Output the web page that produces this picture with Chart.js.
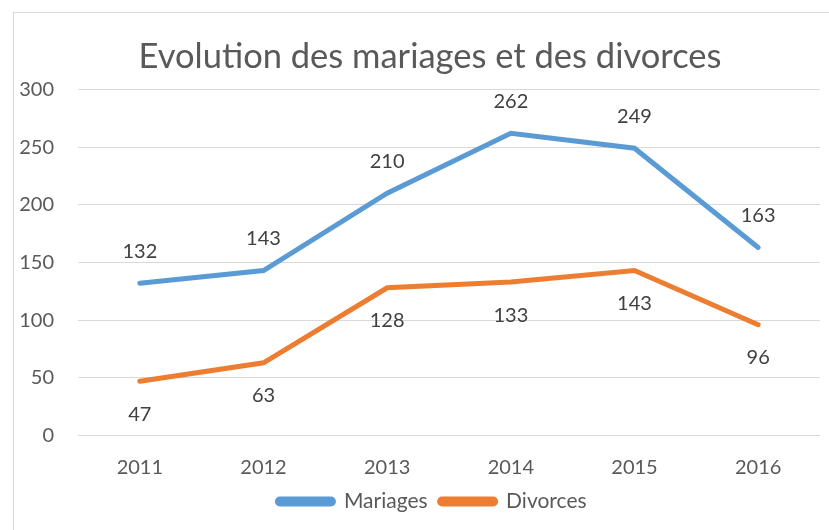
<!DOCTYPE html>
<html>
<head>
<meta charset="utf-8">
<script src="https://cdn.jsdelivr.net/npm/chart.js@4"></script>
<style>
  html, body { margin: 0; padding: 0; background: #fff; }
  #wrap { position: relative; width: 829px; height: 530px; overflow: hidden; }
  #frame {
    position: absolute; left: 13px; top: 12px; width: 840px; height: 560px;
    border: 1px solid #d9d9d9; pointer-events: none;
  }
  canvas { position: absolute; left: 0; top: 0; }
</style>
</head>
<body>
<div id="wrap">
  <canvas id="chart" width="829" height="530"></canvas>
  <div id="frame"></div>
</div>
<script>
const years = ['2011', '2012', '2013', '2014', '2015', '2016'];
const mariages = [132, 143, 210, 262, 249, 163];
const divorces = [47, 63, 128, 133, 143, 96];
const yTicks = [0, 50, 100, 150, 200, 250, 300];

const canvas = document.getElementById('chart');
const fontFamily = 'Lato, "Open Sans", sans-serif';

// draws the value labels above / below each point
const valueLabels = {
  id: 'valueLabels',
  afterDatasetsDraw(chart, args, opts) {
    const ctx = chart.ctx;
    ctx.save();
    ctx.font = `20px ${fontFamily}`;
    ctx.fillStyle = '#404040';
    ctx.textAlign = 'center';
    ctx.textBaseline = 'middle';
    chart.data.datasets.forEach((ds, i) => {
      const meta = chart.getDatasetMeta(i);
      const offset = opts.offsets[i];
      meta.data.forEach((pt, j) => {
        ctx.fillText(String(ds.data[j]), pt.x, pt.y + offset);
      });
    });
    ctx.restore();
  },
};

// title and legend are centred under the plot rather than the canvas
const boxShift = {
  id: 'boxShift',
  afterLayout(chart, args, opts) {
    chart.legend.left += opts.legend;
    chart.titleBlock.left += opts.title;
  },
};

new Chart(canvas, {
  type: 'line',
  data: {
    labels: years,
    datasets: [
      {
        label: 'Mariages',
        data: mariages,
        borderColor: '#5B9BD5',
        backgroundColor: '#5B9BD5',
        borderWidth: 5,
        borderCapStyle: 'round',
        pointRadius: 0,
        tension: 0,
      },
      {
        label: 'Divorces',
        data: divorces,
        borderColor: '#ED7D31',
        backgroundColor: '#ED7D31',
        borderWidth: 5,
        borderCapStyle: 'round',
        pointRadius: 0,
        tension: 0,
      },
    ],
  },
  options: {
    responsive: false,
    animation: false,
    layout: {
      padding: { left: 0, right: 9, top: 0, bottom: 8 },
    },
    scales: {
      x: {
        offset: true,
        grid: { display: false, drawTicks: false },
        border: { display: false },
        afterFit: scale => {
          scale.height = 43.5;
        },
        ticks: {
          color: '#595959',
          font: { family: fontFamily, size: 20 },
          padding: 20,
        },
      },
      y: {
        min: 0,
        max: 300,
        afterBuildTicks: scale => {
          scale.ticks = yTicks.map(v => ({ value: v }));
        },
        afterFit: scale => {
          scale.width = 78;
        },
        grid: { color: '#d9d9d9', lineWidth: 1, drawTicks: false },
        border: { display: false },
        ticks: {
          color: '#595959',
          font: { family: fontFamily, size: 20 },
          padding: 24,
        },
      },
    },
    plugins: {
      title: {
        display: true,
        text: 'Evolution des mariages et des divorces',
        color: '#595959',
        font: { family: fontFamily, size: 34.5, weight: 'normal' },
        padding: { top: 36, bottom: 12 },
      },
      legend: {
        position: 'bottom',
        labels: {
          color: '#595959',
          font: { family: fontFamily, size: 21 },
          boxWidth: 56,
          boxHeight: 5,
          useBorderRadius: true,
          borderRadius: 2.5,
          padding: 12,
        },
      },
      tooltip: { enabled: false },
      valueLabels: { offsets: [-32, 33] },
      boxShift: { legend: 44, title: 40 },
    },
  },
  plugins: [valueLabels, boxShift],
});
</script>
</body>
</html>
